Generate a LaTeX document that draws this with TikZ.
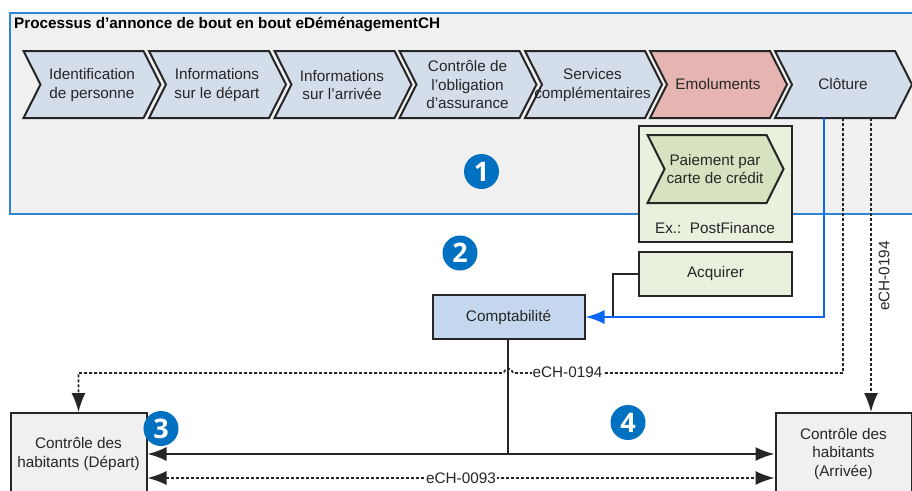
\documentclass[tikz,border=0pt]{standalone}
\usepackage{fontspec}
\setmainfont{Liberation Sans}
\newfontfamily\badgefont{Open Sans}
\usetikzlibrary{arrows.meta}
\definecolor{framebg}{HTML}{F0F0F0}
\definecolor{frameblue}{HTML}{2E86D3}
\definecolor{chevblue}{HTML}{D4DEEB}
\definecolor{chevred}{HTML}{E6B5B1}
\definecolor{chevgreen}{HTML}{D7E3C0}
\definecolor{boxgreen}{HTML}{E9F0DE}
\definecolor{boxblue}{HTML}{C5D7EF}
\definecolor{linkblue}{HTML}{0A66F5}
\definecolor{badgeblue}{HTML}{0070C0}
\definecolor{inkgrey}{HTML}{262626}
\tikzset{
  lbl/.style={text=inkgrey,font=\fontsize{15.3}{18.5}\selectfont,align=center,inner sep=0pt},
  chevron/.style={draw=inkgrey,line width=2pt,line join=miter},
  bloc/.style={draw=inkgrey,line width=2pt,lbl},
  badge/.style={circle,fill=badgeblue,text=white,minimum size=35pt,inner sep=0pt,font=\badgefont\bfseries\fontsize{27}{27}\selectfont},
  plainlink/.style={draw=inkgrey,line width=2pt},
  dashlink/.style={draw=inkgrey,line width=1.7pt,dash pattern=on 3pt off 2pt},
  bigtip/.style={-{Latex[length=19pt,width=14pt]}},
  bothtips/.style={{Latex[length=19pt,width=14pt]}-{Latex[length=19pt,width=14pt]}},
  onlink/.style={lbl,fill=white,inner xsep=1pt}
}
\begin{document}
\begin{tikzpicture}[x=1pt,y=-1pt]
  \clip (0,0) rectangle (912,490);

  % frame
  \draw[draw=frameblue,fill=framebg,line width=2pt] (10,13) rectangle (925,214);
  \node[lbl,anchor=west,font=\fontsize{15.3}{18}\selectfont\bfseries,text=black] (title) at (14,25) {Processus d’annonce de bout en bout eDéménagementCH};

  % process steps
  \draw[chevron,fill=chevblue] (23.5,51) -- ++(120,0) -- ++(17,33.5) -- ++(-17,33.5) -- ++(-120,0) -- ++(17,-33.5) -- cycle;
  \draw[chevron,fill=chevblue] (149,51) -- ++(120,0) -- ++(17,33.5) -- ++(-17,33.5) -- ++(-120,0) -- ++(17,-33.5) -- cycle;
  \draw[chevron,fill=chevblue] (274.5,51) -- ++(120,0) -- ++(17,33.5) -- ++(-17,33.5) -- ++(-120,0) -- ++(17,-33.5) -- cycle;
  \draw[chevron,fill=chevblue] (399.5,51) -- ++(120,0) -- ++(17,33.5) -- ++(-17,33.5) -- ++(-120,0) -- ++(17,-33.5) -- cycle;
  \draw[chevron,fill=chevblue] (525,51) -- ++(120,0) -- ++(17,33.5) -- ++(-17,33.5) -- ++(-120,0) -- ++(17,-33.5) -- cycle;
  \draw[chevron,fill=chevred] (650,51) -- ++(120,0) -- ++(17,33.5) -- ++(-17,33.5) -- ++(-120,0) -- ++(17,-33.5) -- cycle;
  \draw[chevron,fill=chevblue] (775,51) -- ++(120,0) -- ++(17,33.5) -- ++(-17,33.5) -- ++(-120,0) -- ++(17,-33.5) -- cycle;

  \node[lbl] (identification) at (92,85) {Identification\\de personne};
  \node[lbl] (depart) at (217,85) {Informations\\sur le départ};
  \node[lbl] (arrivee) at (342,85) {Informations\\sur l’arrivée};
  \node[lbl] (assurance) at (467.5,85) {Contrôle de\\l’obligation\\d’assurance};
  \node[lbl] (services) at (592.5,85) {Services\\complémentaires};
  \node[lbl] (emoluments) at (718,84) {Emoluments};
  \node[lbl,minimum height=68pt] (cloture) at (843,84) {Clôture};

  % payment
  \node[bloc,fill=boxgreen,minimum width=153pt,minimum height=115.5pt] (paiement) at (715.5,184) {};
  \draw[chevron,fill=chevgreen] (647.5,135) -- ++(119,0) -- ++(17,34) -- ++(-17,34) -- ++(-119,0) -- ++(17,-34) -- cycle;
  \node[lbl] (carte) at (715,169) {Paiement par\\carte de crédit};
  \node[lbl] (postfinance) at (715,228.5) {Ex.:\ \ PostFinance};

  \node[bloc,fill=boxgreen,minimum width=153pt,minimum height=44pt] (acquirer) at (715.5,274) {Acquirer};
  \node[bloc,fill=boxblue,minimum width=152pt,minimum height=44pt] (comptabilite) at (508.5,317) {Comptabilité};
  \node[bloc,fill=framebg,minimum width=136pt,minimum height=82pt] (habdepart) at (78.5,454) {Contrôle des\\habitants (Départ)};
  \node[bloc,fill=framebg,minimum width=136pt,minimum height=82pt] (habarrivee) at (843.5,454) {Contrôle des\\habitants\\(Arrivée)};

  % links
  \coordinate (acqjoin) at (613,317);
  \coordinate (trunkend) at (508,454);
  \coordinate (hopright) at (513,373);
  \coordinate (hopleft) at (503.5,373);
  \draw[plainlink] (acquirer.west) -| (acqjoin);
  \draw[draw=linkblue,line width=2pt,bigtip] ([xshift=-19pt]cloture.south) |- (comptabilite.east);
  \draw[plainlink] (comptabilite.south -| trunkend) -- (trunkend);
  \draw[plainlink,bothtips] (habdepart.east |- trunkend) -- (habarrivee.west |- trunkend);
  \draw[dashlink,bothtips] ([yshift=-24pt]habdepart.east) -- node[onlink] (echb) {eCH-0093} ([yshift=-24pt]habarrivee.west);
  \draw[dashlink,bigtip] (cloture.south) |- (hopright) .. controls (512,367) and (505,367) .. (hopleft) -| (habdepart.north);
  \draw[dashlink,bigtip] ([xshift=28pt]cloture.south) -- ([xshift=27.5pt]habarrivee.north);
  \node[onlink] (echa) at (567.5,372.5) {eCH-0194};
  \node[lbl,rotate=90] (echc) at (884,276) {eCH-0194};

  % numbers
  \node[badge] (num1) at (481.5,171.5) {1};
  \node[badge] (num2) at (460,253) {2};
  \node[badge] (num3) at (161,428.5) {3};
  \node[badge] (num4) at (628,422.5) {4};
\end{tikzpicture}
\end{document}
